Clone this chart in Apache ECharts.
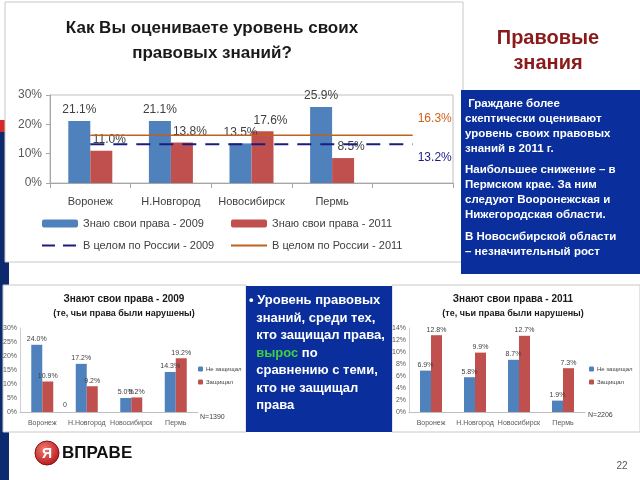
<!DOCTYPE html>
<html>
<head>
<meta charset="utf-8">
<script src="https://cdn.jsdelivr.net/npm/echarts@6/dist/echarts.min.js"></script>
<style>
  html, body { margin: 0; padding: 0; background: #fff; }
  #chart { width: 640px; height: 480px; }
</style>
</head>
<body>
<div id="chart"></div>
<script>
// главный график: знание своих прав
const categories = ["Воронеж", "Н.Новгород", "Новосибирск", "Пермь"];
const mainCats = categories.concat([""]); // пустой пятый слот под подписи линий
const know2009 = [21.1, 21.1, 13.5, 25.9];
const know2011 = [11.0, 13.8, 17.6, 8.5];
const russia2009 = [13.2, 13.2, 13.2, 13.2, 13.2];
const russia2011 = [16.3, 16.3, 16.3, 16.3, 16.3];

// нижние графики (те, чьи права были нарушены)
const notDefended2009 = [24.0, 17.2, 5.0, 14.3];
const defended2009 = [10.9, 9.2, 5.2, 19.2];
const notDefended2011 = [6.9, 5.8, 8.7, 1.9];
const defended2011 = [12.8, 9.9, 12.7, 7.3];

const BLUE = "#4f81bd";
const RED = "#c0504d";
const NAVY = "#1c1c80";
const ORANGE = "#c0601e";
const BOX = "#0a2f9c";
const FONT = "Liberation Sans";

const chart = echarts.init(document.getElementById("chart"));

function pct(p) {
  return p.value == null ? "" : p.value.toFixed(1) + "%";
}

function smallSeries(name, data, color, grid) {
  return {
    name: name,
    type: "bar",
    xAxisIndex: grid,
    yAxisIndex: grid,
    data: data,
    barWidth: 11,
    barGap: "0%",
    itemStyle: { color: color },
    label: {
      show: true,
      position: "top",
      distance: 2,
      fontSize: 7,
      color: "#404040",
      fontFamily: FONT,
      formatter: pct
    }
  };
}

function text(x, y, str, font, fill, align) {
  return {
    type: "text",
    x: x,
    y: y,
    style: {
      text: str,
      font: font,
      fill: fill,
      align: align || "left",
      verticalAlign: "middle"
    }
  };
}

const smallAxisLabel = { fontSize: 7, color: "#595959", fontFamily: FONT };

chart.setOption({
  animation: false,
  textStyle: { fontFamily: FONT },
  graphic: [
    // полоса слева
    { type: "rect", shape: { x: 0, y: 120, width: 10, height: 12 }, style: { fill: "#d42a2a" }, z: -10 },
    { type: "rect", shape: { x: 0, y: 132, width: 9, height: 348 }, style: { fill: "#0d2a6e" }, z: -10 },
    // рамки
    { type: "rect", shape: { x: 5, y: 2, width: 458, height: 260 }, style: { fill: "#fff", stroke: "#c8c8c8" }, z: -5 },
    { type: "rect", shape: { x: 3, y: 285, width: 243, height: 147 }, style: { fill: "#fff", stroke: "#c8c8c8" }, z: -5 },
    { type: "rect", shape: { x: 392, y: 285, width: 248, height: 147 }, style: { fill: "#fff", stroke: "#c8c8c8" }, z: -5 },
    { type: "rect", shape: { x: 461, y: 90, width: 179, height: 184 }, style: { fill: BOX }, z: -4 },
    { type: "rect", shape: { x: 246, y: 286, width: 146, height: 146 }, style: { fill: BOX }, z: -4 },

    // заголовки
    text(212, 28, "Как Вы оцениваете уровень своих", "bold 17px " + FONT, "#1a1a1a", "center"),
    text(212, 53, "правовых знаний?", "bold 17px " + FONT, "#1a1a1a", "center"),
    text(548, 38, "Правовые", "bold 20px " + FONT, "#8b1a1a", "center"),
    text(548, 63, "знания", "bold 20px " + FONT, "#8b1a1a", "center"),

    // правый текстовый блок
    {
      type: "text",
      x: 465,
      y: 96,
      style: {
        text: " Граждане более\nскептически оценивают\nуровень своих правовых\nзнаний в 2011 г.",
        font: "bold 11.5px " + FONT,
        fill: "#fff",
        lineHeight: 15
      }
    },
    {
      type: "text",
      x: 465,
      y: 162,
      style: {
        text: "Наибольшее снижение – в\nПермском крае. За ним\nследуют Вооронежская и\nНижегородская области.",
        font: "bold 11.5px " + FONT,
        fill: "#fff",
        lineHeight: 15
      }
    },
    {
      type: "text",
      x: 465,
      y: 229,
      style: {
        text: "В Новосибирской области\n– незначительный рост",
        font: "bold 11.5px " + FONT,
        fill: "#fff",
        lineHeight: 15
      }
    },

    // средний текстовый блок
    {
      type: "text",
      x: 249,
      y: 292,
      style: {
        text: "• {w|Уровень правовых}\n  знаний, среди тех,\n  кто защищал права,\n  {g|вырос} по\n  сравнению с теми,\n  кто не защищал\n  права",
        font: "bold 13px " + FONT,
        fill: "#fff",
        lineHeight: 17.5,
        rich: {
          w: { font: "bold 13px " + FONT, fill: "#fff" },
          g: { font: "bold 13px " + FONT, fill: "#3fcf3f" }
        }
      }
    },

    // заголовки нижних графиков
    text(124, 299, "Знают свои права - 2009", "bold 10px " + FONT, "#1a1a1a", "center"),
    text(124, 314, "(те, чьи права были нарушены)", "bold 9px " + FONT, "#1a1a1a", "center"),
    text(513, 299, "Знают свои права - 2011", "bold 10px " + FONT, "#1a1a1a", "center"),
    text(513, 314, "(те, чьи права были нарушены)", "bold 9px " + FONT, "#1a1a1a", "center"),
    text(65, 405, "0", "7px " + FONT, "#404040", "center"),
    text(200, 417, "N=1390", "7px " + FONT, "#404040"),
    text(588, 415, "N=2206", "7px " + FONT, "#404040"),

    // логотип
    {
      type: "circle",
      shape: { cx: 47, cy: 453, r: 12 },
      style: {
        fill: new echarts.graphic.RadialGradient(0.4, 0.35, 0.7, [
          { offset: 0, color: "#f27a6e" },
          { offset: 1, color: "#b4141a" }
        ]),
        stroke: "#8a1010"
      }
    },
    text(47, 454, "Я", "bold 14px " + FONT, "#fff", "center"),
    text(62, 453, "ВПРАВЕ", "bold 17px " + FONT, "#111"),
    text(622, 466, "22", "10px " + FONT, "#595959", "center")
  ],
  legend: [
    {
      left: 42, top: 218, padding: 0, itemWidth: 36, itemHeight: 8,
      data: ["Знаю свои права - 2009"],
      textStyle: { fontSize: 11, color: "#404040" }
    },
    {
      left: 231, top: 218, padding: 0, itemWidth: 36, itemHeight: 8,
      data: ["Знаю свои права - 2011"],
      textStyle: { fontSize: 11, color: "#404040" }
    },
    {
      left: 42, top: 240, padding: 0, itemWidth: 36, itemHeight: 2,
      data: [{ name: "В целом по России - 2009", icon: "path://M0,0h13v2h-13zM21,0h13v2h-13zM35.9,0h0.1v2h-0.1z" }],
      textStyle: { fontSize: 11, color: "#404040" }
    },
    {
      left: 231, top: 240, padding: 0, itemWidth: 36, itemHeight: 2,
      data: [{ name: "В целом по России - 2011", icon: "rect" }],
      textStyle: { fontSize: 11, color: "#404040" }
    },
    {
      left: 198, top: 366, padding: 0, orient: "vertical", itemWidth: 5, itemHeight: 5, itemGap: 7,
      data: ["Не защищал", "Защищал"],
      textStyle: { fontSize: 6, color: "#404040", padding: [0, 0, 0, -2] }
    },
    {
      left: 589, top: 366, padding: 0, orient: "vertical", itemWidth: 5, itemHeight: 5, itemGap: 7,
      data: ["Не защищал", "Защищал"],
      textStyle: { fontSize: 6, color: "#404040", padding: [0, 0, 0, -2] }
    }
  ],
  grid: [
    { left: 50, right: 187, top: 95, bottom: 297, show: true, borderColor: "#bfbfbf", borderWidth: 1 },
    { left: 20, width: 178, top: 328, bottom: 68 },
    { left: 409, width: 176, top: 328, bottom: 68 }
  ],
  xAxis: [
    {
      type: "category", gridIndex: 0, data: mainCats,
      axisLine: { lineStyle: { color: "#a6a6a6" } },
      axisTick: { show: true, length: 5, lineStyle: { color: "#a6a6a6" } },
      axisLabel: { interval: 0, fontSize: 11, color: "#404040", margin: 13 }
    },
    {
      type: "category", gridIndex: 1, data: categories,
      axisLine: { lineStyle: { color: "#bfbfbf" } },
      axisTick: { show: false },
      axisLabel: Object.assign({ interval: 0, margin: 8 }, smallAxisLabel)
    },
    {
      type: "category", gridIndex: 2, data: categories,
      axisLine: { lineStyle: { color: "#bfbfbf" } },
      axisTick: { show: false },
      axisLabel: Object.assign({ interval: 0, margin: 8 }, smallAxisLabel)
    }
  ],
  yAxis: [
    {
      type: "value", gridIndex: 0, min: 0, max: 30, interval: 10,
      axisLine: { show: true, lineStyle: { color: "#a6a6a6" } },
      axisTick: { show: true, length: 4, lineStyle: { color: "#a6a6a6" } },
      splitLine: { show: false },
      axisLabel: { formatter: "{value}%", fontSize: 12, color: "#595959", margin: 8 }
    },
    {
      type: "value", gridIndex: 1, min: 0, max: 30, interval: 5,
      axisLine: { show: true, lineStyle: { color: "#d0d0d0" } },
      axisTick: { show: false },
      splitLine: { show: false },
      axisLabel: Object.assign({ formatter: "{value}%", margin: 3 }, smallAxisLabel)
    },
    {
      type: "value", gridIndex: 2, min: 0, max: 14, interval: 2,
      axisLine: { show: true, lineStyle: { color: "#d0d0d0" } },
      axisTick: { show: false },
      splitLine: { show: false },
      axisLabel: Object.assign({ formatter: "{value}%", margin: 3 }, smallAxisLabel)
    }
  ],
  series: [
    {
      name: "Знаю свои права - 2009",
      type: "bar",
      data: know2009,
      barWidth: 22,
      barGap: "0%",
      itemStyle: { color: BLUE },
      label: { show: true, position: "top", distance: 5, fontSize: 12, color: "#404040", formatter: pct }
    },
    {
      name: "Знаю свои права - 2011",
      type: "bar",
      data: know2011,
      barWidth: 22,
      itemStyle: { color: RED },
      label: { show: true, position: "top", distance: 5, offset: [8, 0], fontSize: 12, color: "#404040", formatter: pct }
    },
    {
      name: "В целом по России - 2009",
      type: "line",
      data: russia2009,
      symbol: "none",
      lineStyle: { color: NAVY, width: 2, type: [14, 9] },
      itemStyle: { color: NAVY },
      endLabel: { show: true, distance: 5, offset: [0, 13], fontSize: 12, color: NAVY, formatter: pct },
      z: 3
    },
    {
      name: "В целом по России - 2011",
      type: "line",
      data: russia2011,
      symbol: "none",
      lineStyle: { color: ORANGE, width: 1.5 },
      itemStyle: { color: ORANGE },
      endLabel: { show: true, distance: 5, offset: [0, -16], fontSize: 12, color: "#d0601a", formatter: pct },
      z: 3
    },
    smallSeries("Не защищал", notDefended2009, BLUE, 1),
    smallSeries("Защищал", defended2009, RED, 1),
    smallSeries("Не защищал", notDefended2011, BLUE, 2),
    smallSeries("Защищал", defended2011, RED, 2)
  ]
});
</script>
</body>
</html>
